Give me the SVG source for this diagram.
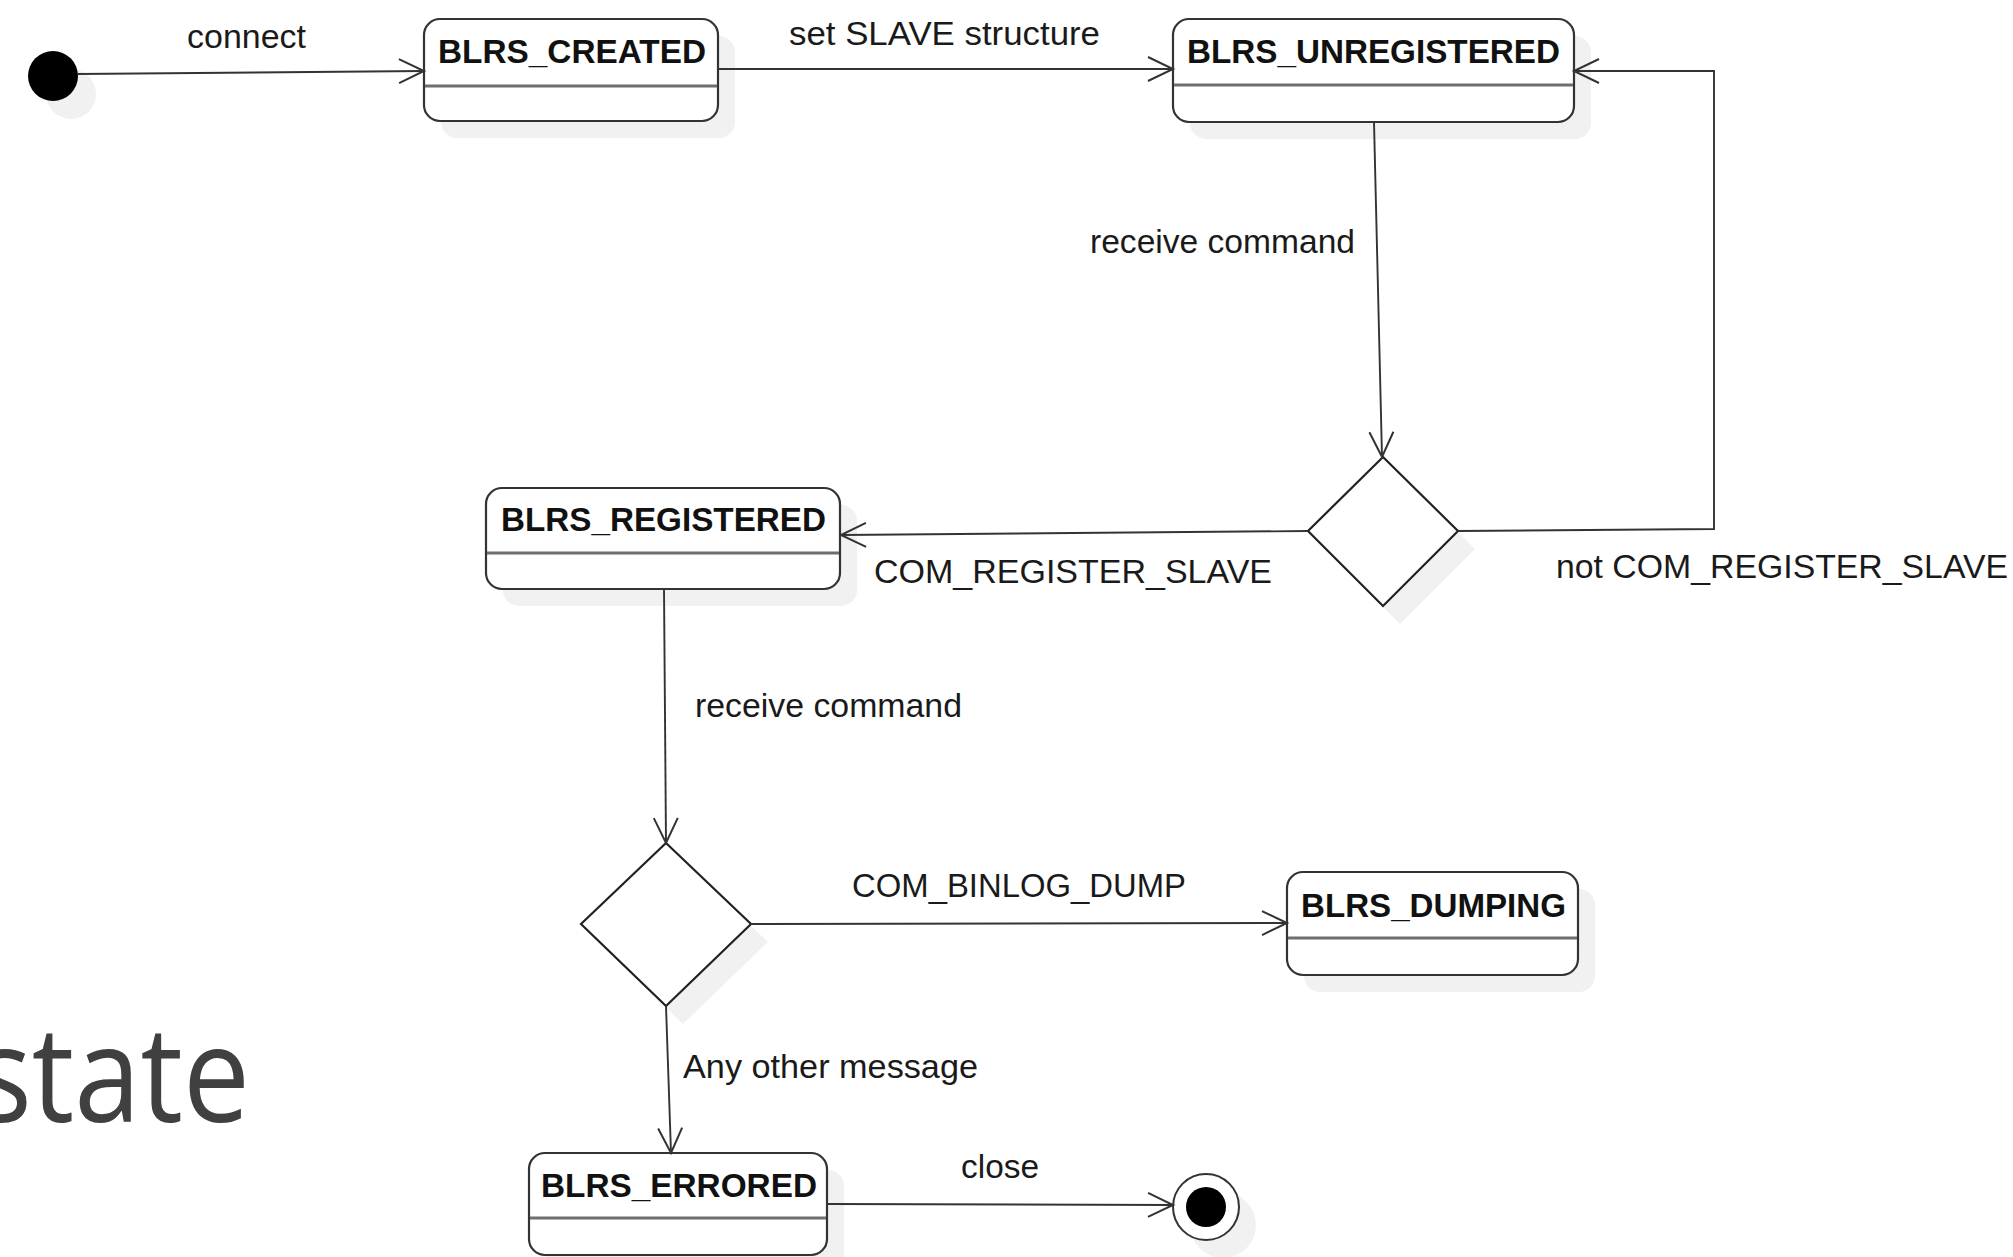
<svg xmlns="http://www.w3.org/2000/svg" width="2013" height="1257" viewBox="0 0 2013 1257">
  <defs>
    <style>
      .shadow { fill: #f1f1f1; stroke: none; }
      .box { fill: #ffffff; stroke: #333333; stroke-width: 2.2; }
      .divider { stroke: #6e6e6e; stroke-width: 3; }
      .name { font-family: "Liberation Sans", Arial, sans-serif; font-weight: bold; font-size: 33.5px; fill: #111111; }
      .label { font-family: "Liberation Sans", Arial, sans-serif; font-size: 33px; fill: #1a1a1a; }
      .edge { fill: none; stroke: #333333; stroke-width: 1.9; marker-end: url(#open); }
      .decision { fill: #ffffff; stroke: #222222; stroke-width: 2.2; }
      .title { font-family: "Open Sans", "Noto Sans", sans-serif; font-size: 133px; fill: #404040; }
    </style>
    <marker id="open" markerUnits="userSpaceOnUse" markerWidth="40" markerHeight="40" viewBox="-30 -20 40 40" refX="0" refY="0" orient="auto" overflow="visible">
      <path d="M-25,-12 L0,0 L-25,12" fill="none" stroke="#333333" stroke-width="2"/>
    </marker>
  </defs>

  <rect width="2013" height="1257" fill="#ffffff"/>

  <!-- slide title fragment, running off the left edge -->
  <text class="title" x="-25" y="1122" textLength="275" lengthAdjust="spacingAndGlyphs">state</text>

  <!-- initial pseudo-state -->
  <g id="initial">
    <circle class="shadow" cx="71" cy="94" r="25"/>
    <circle cx="53" cy="76" r="25" fill="#000000"/>
  </g>

  <g id="blrs-created">
    <rect class="shadow" x="441" y="36" width="294" height="102" rx="16"/>
    <rect class="box" x="424" y="19" width="294" height="102" rx="16"/>
    <line class="divider" x1="425" y1="86" x2="717" y2="86"/>
    <text class="name" x="438" y="63" textLength="268" lengthAdjust="spacingAndGlyphs">BLRS_CREATED</text>
  </g>

  <g id="blrs-unregistered">
    <rect class="shadow" x="1190" y="36" width="401" height="103" rx="16"/>
    <rect class="box" x="1173" y="19" width="401" height="103" rx="16"/>
    <line class="divider" x1="1174" y1="85" x2="1573" y2="85"/>
    <text class="name" x="1187" y="63" textLength="373" lengthAdjust="spacingAndGlyphs">BLRS_UNREGISTERED</text>
  </g>

  <g id="decision-register">
    <polygon class="shadow" points="1400,475 1475,549 1400,624 1325,549"/>
    <polygon class="decision" points="1383,457 1458,531 1383,606 1308,531"/>
  </g>

  <g id="blrs-registered">
    <rect class="shadow" x="503" y="505" width="354" height="101" rx="16"/>
    <rect class="box" x="486" y="488" width="354" height="101" rx="16"/>
    <line class="divider" x1="487" y1="553" x2="839" y2="553"/>
    <text class="name" x="501" y="531" textLength="325" lengthAdjust="spacingAndGlyphs">BLRS_REGISTERED</text>
  </g>

  <g id="decision-command">
    <polygon class="shadow" points="683,861 768,942 683,1024 598,942"/>
    <polygon class="decision" points="666,843 751,924 666,1006 581,924"/>
  </g>

  <g id="blrs-dumping">
    <rect class="shadow" x="1304" y="889" width="291" height="103" rx="16"/>
    <rect class="box" x="1287" y="872" width="291" height="103" rx="16"/>
    <line class="divider" x1="1288" y1="938" x2="1577" y2="938"/>
    <text class="name" x="1301" y="917" textLength="265" lengthAdjust="spacingAndGlyphs">BLRS_DUMPING</text>
  </g>

  <g id="blrs-errored">
    <rect class="shadow" x="546" y="1170" width="298" height="102" rx="16"/>
    <rect class="box" x="529" y="1153" width="298" height="102" rx="16"/>
    <line class="divider" x1="530" y1="1218" x2="826" y2="1218"/>
    <text class="name" x="541" y="1197" textLength="276" lengthAdjust="spacingAndGlyphs">BLRS_ERRORED</text>
  </g>

  <!-- final pseudo-state -->
  <g id="final">
    <circle class="shadow" cx="1223" cy="1225" r="33"/>
    <circle cx="1206" cy="1207" r="33" fill="#ffffff" stroke="#333333" stroke-width="2"/>
    <circle cx="1206" cy="1207" r="20" fill="#000000"/>
  </g>

  <!-- transitions -->
  <g id="connectors">
    <path class="edge" d="M78,74 L424,71"/>
    <text class="label" x="187" y="48" textLength="119" lengthAdjust="spacingAndGlyphs">connect</text>

    <path class="edge" d="M718,69 L1173,69"/>
    <text class="label" x="789" y="45" textLength="311" lengthAdjust="spacingAndGlyphs">set SLAVE structure</text>

    <path class="edge" d="M1374,122 L1382,457"/>
    <text class="label" x="1090" y="253" textLength="265" lengthAdjust="spacingAndGlyphs">receive command</text>

    <path class="edge" d="M1458,531 L1714,529 L1714,71 L1574,71"/>
    <text class="label" x="1556" y="578" textLength="452" lengthAdjust="spacingAndGlyphs">not COM_REGISTER_SLAVE</text>

    <path class="edge" d="M1308,531 L841,535"/>
    <text class="label" x="874" y="583" textLength="398" lengthAdjust="spacingAndGlyphs">COM_REGISTER_SLAVE</text>

    <path class="edge" d="M664,589 L666,843"/>
    <text class="label" x="695" y="717" textLength="267" lengthAdjust="spacingAndGlyphs">receive command</text>

    <path class="edge" d="M752,924 L1287,923"/>
    <text class="label" x="852" y="897" textLength="334" lengthAdjust="spacingAndGlyphs">COM_BINLOG_DUMP</text>

    <path class="edge" d="M666,1006 L671,1153"/>
    <text class="label" x="683" y="1078" textLength="295" lengthAdjust="spacingAndGlyphs">Any other message</text>

    <path class="edge" d="M827,1204 L1173,1205"/>
    <text class="label" x="961" y="1178" textLength="78" lengthAdjust="spacingAndGlyphs">close</text>
  </g>
</svg>
